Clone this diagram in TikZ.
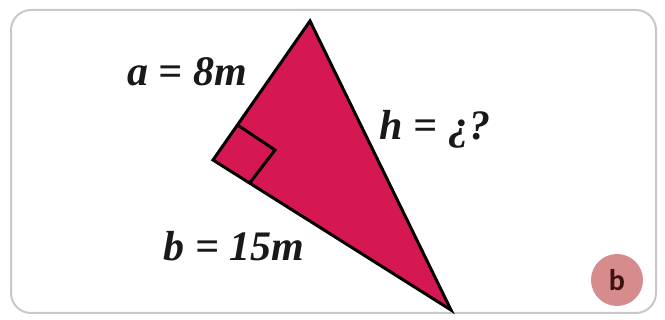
\documentclass[tikz,border=0pt]{standalone}
\usepackage{fontspec}
\setmainfont{Liberation Serif}
\newfontfamily\badgefont{Carlito}
\definecolor{trifill}{RGB}{214,24,82}
\definecolor{framegray}{RGB}{200,200,200}
\definecolor{badgefill}{RGB}{214,140,140}
\definecolor{badgetext}{RGB}{60,18,18}
\definecolor{labeltext}{RGB}{25,25,25}
\tikzset{
  lbl/.style={font=\fontsize{42}{46}\selectfont\bfseries\itshape, text=labeltext, inner sep=0pt},
  edge/.style={draw=black, line width=3pt, line join=miter},
}
\begin{document}
\begin{tikzpicture}[x=1pt,y=-1pt]
\useasboundingbox (0,0) rectangle (665,320);
\fill[white] (0,0) rectangle (665,320);
\draw[framegray, line width=2pt, rounded corners=20pt] (11,10) rectangle (656,313);
% triangle
\coordinate (T) at (310,21);
\coordinate (R) at (213,160);
\coordinate (B) at (451,310);
\filldraw[fill=trifill, edge] (T) -- (R) -- (B) -- cycle;
% right angle mark
\coordinate (S1) at (239,126);
\coordinate (S2) at (275,150);
\coordinate (S3) at (249,184);
\draw[line width=3pt, line join=miter] (S1) -- (S2) -- (S3);
% labels
\node[lbl] (la) at (187,72) {a = 8m};
\node[lbl] (lh) at (435,129) {h = ¿?};
\node[lbl] (lb) at (234,246) {b = 15m};
% badge
\node[circle, fill=badgefill, minimum size=52pt, inner sep=0pt, text=badgetext, font=\badgefont\bfseries\fontsize{30}{34}\selectfont] (badge) at (617,280) {b};
\end{tikzpicture}
\end{document}
